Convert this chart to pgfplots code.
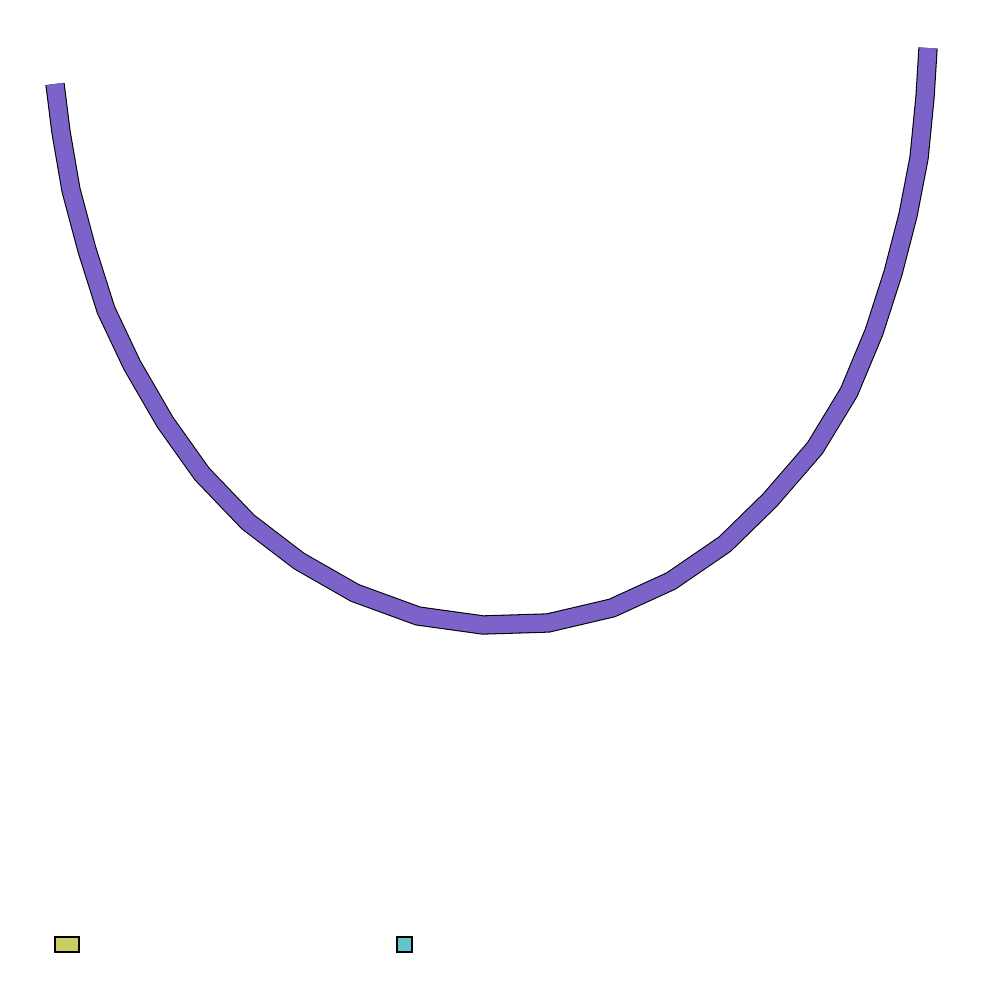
\documentclass[border=0pt]{standalone}
\usepackage{pgfplots}
\pgfplotsset{compat=1.18}
\definecolor{band}{RGB}{123,99,202}
\definecolor{ygreen}{RGB}{201,206,98}
\definecolor{teal2}{RGB}{99,196,204}
\begin{document}
\begin{tikzpicture}
\begin{axis}[
  hide axis, scale only axis,
  width=9.84cm, height=10cm,
  xmin=0, xmax=984, ymin=0, ymax=1000,
  clip=false,
]
% invisible frame to keep the full canvas
\addplot[draw=none] coordinates {(0,0) (984,1000)};
% ribbon centre line (y measured upward)
\addplot[draw=black, line width=0.3pt, double=band, double distance=4.9pt, line join=miter] coordinates {
(55,916) (61,868) (71,810) (87,750) (106,690) (132,635) (165,578) (202,526)
(248,478) (299,439) (355,407) (418,384) (483,375) (548,377) (612,392)
(671,419) (725,456) (770,500) (815,552) (849,608) (874,668) (893,727)
(908,785) (919,842) (925,903) (928,952)
};
% legend swatches
\addplot[draw=black, line width=0.4pt, fill=ygreen] coordinates {(55,48) (79,48) (79,63) (55,63) (55,48)} -- cycle;
\addplot[draw=black, line width=0.4pt, fill=teal2] coordinates {(397,48) (412,48) (412,63) (397,63) (397,48)} -- cycle;
\end{axis}
\end{tikzpicture}
\end{document}
